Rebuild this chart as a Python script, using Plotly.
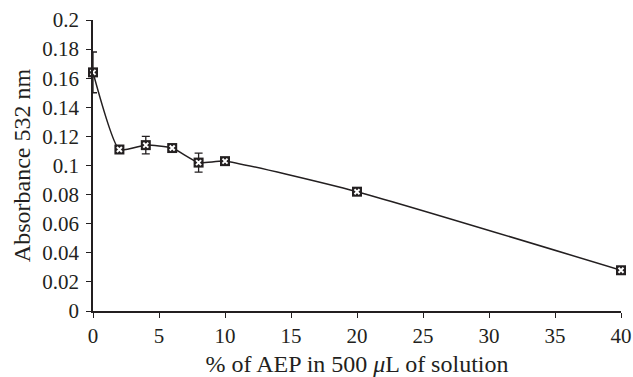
import plotly.graph_objects as go

x_pct = [0, 2, 4, 6, 8, 10, 20, 40]
absorbance = [0.164, 0.111, 0.114, 0.112, 0.102, 0.103, 0.082, 0.028]
err = [0.014, 0.002, 0.006, 0.002, 0.0065, 0.002, 0.002, 0.002]

x_ticks = [0, 5, 10, 15, 20, 25, 30, 35, 40]
y_ticks = [0, 0.02, 0.04, 0.06, 0.08, 0.1, 0.12, 0.14, 0.16, 0.18, 0.2]
y_tick_text = ["0", "0.02", "0.04", "0.06", "0.08", "0.1", "0.12", "0.14", "0.16", "0.18", "0.2"]

font = "Liberation Serif"
ink = "#231f20"

fig = go.Figure()
fig.add_trace(go.Scatter(
    x=x_pct, y=absorbance, mode="lines+markers",
    line=dict(color=ink, width=1.5, shape="spline", smoothing=0.5),
    marker=dict(symbol="square", size=10, color=ink),
    error_y=dict(type="data", array=err, color=ink, thickness=1.3, width=4),
    cliponaxis=False, showlegend=False,
))
fig.add_trace(go.Scatter(
    x=x_pct, y=absorbance, mode="markers",
    marker=dict(symbol="x-thin", size=5, color="white", line=dict(color="white", width=2)),
    cliponaxis=False, showlegend=False,
))

fig.update_layout(
    width=633, height=377,
    margin=dict(l=93, r=12, t=20, b=66, autoexpand=False),
    paper_bgcolor="white", plot_bgcolor="white",
    font=dict(family=font, size=21, color=ink),
    xaxis=dict(
        range=[0, 40], tickvals=x_ticks, ticks="outside", ticklen=5, tickwidth=1.3,
        tickcolor=ink, showline=True, linecolor=ink, linewidth=1.5, showgrid=False,
        zeroline=False, tickfont=dict(size=21), automargin=False,
        title=dict(text="% of AEP in 500 <i>μ</i>L of solution", font=dict(size=24), standoff=8),
    ),
    yaxis=dict(
        range=[0, 0.2], tickvals=y_ticks, ticktext=y_tick_text, ticks="outside", ticklen=5,
        tickwidth=1.3, tickcolor=ink, showline=True, linecolor=ink, linewidth=1.5,
        showgrid=False, zeroline=False, tickfont=dict(size=21), ticklabelstandoff=3,
        automargin=False,
        title=dict(text="Absorbance 532 nm", font=dict(size=24), standoff=5),
    ),
)

fig.write_html(
    "out.html",
    config={"displayModeBar": False},
    post_script="document.body.style.margin='0';document.body.style.overflow='hidden';",
)
